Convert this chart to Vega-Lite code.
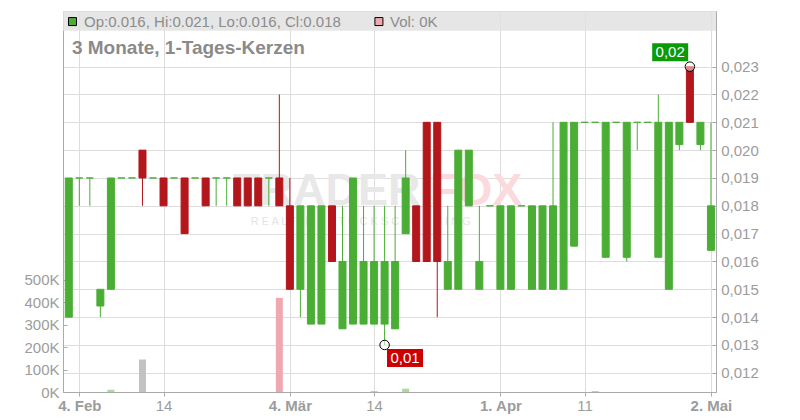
{
  "$schema": "https://vega.github.io/schema/vega-lite/v6.json",
  "width": 653,
  "height": 381,
  "autosize": {"type": "none"},
  "padding": {"left": 63, "top": 11, "right": 84, "bottom": 28},
  "background": "white",
  "config": {
    "view": {"stroke": "#cccccc"},
    "font": "Liberation Sans",
    "axis": {
      "labelFont": "Liberation Sans",
      "labelFontSize": 15,
      "labelColor": "#9c9c9c",
      "domainColor": "#aaaaaa",
      "tickColor": "#aaaaaa",
      "gridColor": "#dddddd",
      "labelFlush": false,
      "labelOverlap": false
    }
  },
  "data": {
    "values": [
      {"i": 0, "d": "2025-02-03", "o": 0.014, "h": 0.019, "l": 0.014, "c": 0.019, "v": 0},
      {"i": 1, "d": "2025-02-04", "o": 0.019, "h": 0.019, "l": 0.018, "c": 0.019, "v": 0},
      {"i": 2, "d": "2025-02-05", "o": 0.019, "h": 0.019, "l": 0.018, "c": 0.019, "v": 0},
      {"i": 3, "d": "2025-02-06", "o": 0.0144, "h": 0.015, "l": 0.014, "c": 0.015, "v": 0},
      {"i": 4, "d": "2025-02-07", "o": 0.015, "h": 0.019, "l": 0.015, "c": 0.019, "v": 10000},
      {"i": 5, "d": "2025-02-10", "o": 0.019, "h": 0.019, "l": 0.019, "c": 0.019, "v": 0},
      {"i": 6, "d": "2025-02-11", "o": 0.019, "h": 0.019, "l": 0.019, "c": 0.019, "v": 0},
      {"i": 7, "d": "2025-02-12", "o": 0.020, "h": 0.020, "l": 0.018, "c": 0.019, "v": 145000},
      {"i": 8, "d": "2025-02-13", "o": 0.019, "h": 0.019, "l": 0.019, "c": 0.019, "v": 0},
      {"i": 9, "d": "2025-02-14", "o": 0.019, "h": 0.019, "l": 0.018, "c": 0.018, "v": 0},
      {"i": 10, "d": "2025-02-17", "o": 0.019, "h": 0.019, "l": 0.019, "c": 0.019, "v": 0},
      {"i": 11, "d": "2025-02-18", "o": 0.019, "h": 0.019, "l": 0.017, "c": 0.017, "v": 0},
      {"i": 12, "d": "2025-02-19", "o": 0.019, "h": 0.019, "l": 0.019, "c": 0.019, "v": 0},
      {"i": 13, "d": "2025-02-20", "o": 0.019, "h": 0.019, "l": 0.018, "c": 0.018, "v": 0},
      {"i": 14, "d": "2025-02-21", "o": 0.019, "h": 0.019, "l": 0.018, "c": 0.019, "v": 0},
      {"i": 15, "d": "2025-02-24", "o": 0.019, "h": 0.019, "l": 0.018, "c": 0.019, "v": 0},
      {"i": 16, "d": "2025-02-25", "o": 0.019, "h": 0.019, "l": 0.018, "c": 0.018, "v": 0},
      {"i": 17, "d": "2025-02-26", "o": 0.019, "h": 0.019, "l": 0.018, "c": 0.018, "v": 0},
      {"i": 18, "d": "2025-02-27", "o": 0.019, "h": 0.019, "l": 0.018, "c": 0.018, "v": 0},
      {"i": 19, "d": "2025-02-28", "o": 0.019, "h": 0.019, "l": 0.018, "c": 0.019, "v": 0},
      {"i": 20, "d": "2025-03-03", "o": 0.019, "h": 0.022, "l": 0.018, "c": 0.018, "v": 420000},
      {"i": 21, "d": "2025-03-04", "o": 0.018, "h": 0.019, "l": 0.015, "c": 0.015, "v": 0},
      {"i": 22, "d": "2025-03-05", "o": 0.015, "h": 0.018, "l": 0.014, "c": 0.018, "v": 0},
      {"i": 23, "d": "2025-03-06", "o": 0.01375, "h": 0.018, "l": 0.01375, "c": 0.018, "v": 0},
      {"i": 24, "d": "2025-03-07", "o": 0.01375, "h": 0.018, "l": 0.01375, "c": 0.018, "v": 0},
      {"i": 25, "d": "2025-03-10", "o": 0.018, "h": 0.018, "l": 0.016, "c": 0.016, "v": 0},
      {"i": 26, "d": "2025-03-11", "o": 0.01358, "h": 0.018, "l": 0.01358, "c": 0.016, "v": 0},
      {"i": 27, "d": "2025-03-12", "o": 0.01375, "h": 0.019, "l": 0.01375, "c": 0.019, "v": 0},
      {"i": 28, "d": "2025-03-13", "o": 0.01375, "h": 0.018, "l": 0.01375, "c": 0.016, "v": 0},
      {"i": 29, "d": "2025-03-14", "o": 0.01375, "h": 0.018, "l": 0.01375, "c": 0.016, "v": 4000},
      {"i": 30, "d": "2025-03-17", "o": 0.01375, "h": 0.018, "l": 0.013, "c": 0.016, "v": 0},
      {"i": 31, "d": "2025-03-18", "o": 0.01358, "h": 0.018, "l": 0.01358, "c": 0.016, "v": 0},
      {"i": 32, "d": "2025-03-19", "o": 0.017, "h": 0.020, "l": 0.017, "c": 0.019, "v": 15000},
      {"i": 33, "d": "2025-03-20", "o": 0.018, "h": 0.018, "l": 0.016, "c": 0.016, "v": 0},
      {"i": 34, "d": "2025-03-21", "o": 0.021, "h": 0.021, "l": 0.016, "c": 0.016, "v": 0},
      {"i": 35, "d": "2025-03-24", "o": 0.021, "h": 0.021, "l": 0.014, "c": 0.016, "v": 0},
      {"i": 36, "d": "2025-03-25", "o": 0.015, "h": 0.018, "l": 0.015, "c": 0.016, "v": 0},
      {"i": 37, "d": "2025-03-26", "o": 0.015, "h": 0.020, "l": 0.015, "c": 0.020, "v": 0},
      {"i": 38, "d": "2025-03-27", "o": 0.018, "h": 0.020, "l": 0.018, "c": 0.020, "v": 0},
      {"i": 39, "d": "2025-03-28", "o": 0.015, "h": 0.018, "l": 0.015, "c": 0.016, "v": 0},
      {"i": 40, "d": "2025-03-31", "o": 0.018, "h": 0.018, "l": 0.018, "c": 0.018, "v": 0},
      {"i": 41, "d": "2025-04-01", "o": 0.015, "h": 0.018, "l": 0.015, "c": 0.018, "v": 0},
      {"i": 42, "d": "2025-04-02", "o": 0.015, "h": 0.018, "l": 0.015, "c": 0.018, "v": 0},
      {"i": 43, "d": "2025-04-03", "o": 0.018, "h": 0.018, "l": 0.018, "c": 0.018, "v": 0},
      {"i": 44, "d": "2025-04-04", "o": 0.015, "h": 0.018, "l": 0.015, "c": 0.018, "v": 0},
      {"i": 45, "d": "2025-04-07", "o": 0.015, "h": 0.018, "l": 0.015, "c": 0.018, "v": 0},
      {"i": 46, "d": "2025-04-08", "o": 0.015, "h": 0.021, "l": 0.015, "c": 0.018, "v": 0},
      {"i": 47, "d": "2025-04-09", "o": 0.015, "h": 0.021, "l": 0.015, "c": 0.021, "v": 0},
      {"i": 48, "d": "2025-04-10", "o": 0.01655, "h": 0.021, "l": 0.01655, "c": 0.021, "v": 0},
      {"i": 49, "d": "2025-04-11", "o": 0.021, "h": 0.021, "l": 0.021, "c": 0.021, "v": 0},
      {"i": 50, "d": "2025-04-14", "o": 0.021, "h": 0.021, "l": 0.021, "c": 0.021, "v": 4000},
      {"i": 51, "d": "2025-04-15", "o": 0.01615, "h": 0.021, "l": 0.01615, "c": 0.021, "v": 0},
      {"i": 52, "d": "2025-04-16", "o": 0.021, "h": 0.021, "l": 0.021, "c": 0.021, "v": 0},
      {"i": 53, "d": "2025-04-17", "o": 0.01615, "h": 0.021, "l": 0.016, "c": 0.021, "v": 0},
      {"i": 54, "d": "2025-04-22", "o": 0.021, "h": 0.021, "l": 0.020, "c": 0.021, "v": 0},
      {"i": 55, "d": "2025-04-23", "o": 0.021, "h": 0.021, "l": 0.021, "c": 0.021, "v": 0},
      {"i": 56, "d": "2025-04-24", "o": 0.01615, "h": 0.022, "l": 0.01615, "c": 0.021, "v": 0},
      {"i": 57, "d": "2025-04-25", "o": 0.015, "h": 0.021, "l": 0.015, "c": 0.021, "v": 0},
      {"i": 58, "d": "2025-04-28", "o": 0.0202, "h": 0.021, "l": 0.020, "c": 0.021, "v": 0},
      {"i": 59, "d": "2025-04-29", "o": 0.023, "h": 0.023, "l": 0.021, "c": 0.021, "v": 0},
      {"i": 60, "d": "2025-04-30", "o": 0.0202, "h": 0.021, "l": 0.020, "c": 0.021, "v": 0},
      {"i": 61, "d": "2025-05-02", "o": 0.0164, "h": 0.021, "l": 0.0164, "c": 0.018, "v": 0}
    ]
  },
  "encoding": {
    "x": {
      "field": "i",
      "type": "quantitative",
      "scale": {"domain": [-0.55, 61.48], "nice": false, "zero": false, "padding": 0},
      "axis": {
        "title": null,
        "orient": "bottom",
        "values": [1, 9, 21, 29, 41, 49, 61],
        "labelExpr": "datum.value == 1 ? '4. Feb' : datum.value == 9 ? '14' : datum.value == 21 ? '4. Mär' : datum.value == 29 ? '14' : datum.value == 41 ? '1. Apr' : datum.value == 49 ? '11' : datum.value == 61 ? '2. Mai' : ''",
        "labelFontWeight": {"condition": {"test": "datum.value == 1 || datum.value == 21 || datum.value == 41 || datum.value == 61", "value": "bold"}, "value": "normal"},
        "grid": true,
        "tickSize": 4,
        "labelPadding": 2
      }
    }
  },
  "layer": [
    {
      "transform": [
        {"window": [{"op": "lag", "field": "c", "as": "pc"}], "sort": [{"field": "i", "order": "ascending"}]},
        {"filter": "datum.v > 0"}
      ],
      "mark": {"type": "bar", "width": 7},
      "encoding": {
        "y": {
          "field": "v",
          "type": "quantitative",
          "scale": {"domain": [0, 1700000], "nice": false},
          "axis": {
            "title": null,
            "orient": "left",
            "values": [0, 100000, 200000, 300000, 400000, 500000],
            "labelExpr": "(datum.value / 1000) + 'K'",
            "grid": false,
            "tickSize": -4,
            "labelPadding": 8
          }
        },
        "color": {
          "condition": [
            {"test": "datum.c > datum.pc", "value": "#a8dc9e"},
            {"test": "datum.c < datum.pc", "value": "#f0a8b0"}
          ],
          "value": "#c2c2c2"
        }
      }
    },
    {
      "encoding": {
        "y": {
          "field": "l",
          "type": "quantitative",
          "scale": {"domain": [0.01131, 0.025], "nice": false, "zero": false},
          "axis": {
            "title": null,
            "orient": "right",
            "values": [0.012, 0.013, 0.014, 0.015, 0.016, 0.017, 0.018, 0.019, 0.02, 0.021, 0.022, 0.023],
            "labelExpr": "replace(format(datum.value, '.3f'), '.', ',')",
            "grid": true,
            "tickSize": -4,
            "labelPadding": 8.7
          }
        }
      },
      "layer": [
        {
          "transform": [{"filter": "datum.i == 0"}],
          "mark": {"type": "rect", "color": "#e2e2e2", "opacity": 0.85},
          "encoding": {
            "x": {"datum": -0.55, "type": "quantitative"},
            "x2": {"datum": 61.48},
            "y": {"datum": 0.025, "type": "quantitative"},
            "y2": {"datum": 0.02429}
          }
        },
        {
          "transform": [{"filter": "datum.i == 0"}],
          "mark": {"type": "text", "text": "TRADER", "align": "left", "baseline": "middle", "fontSize": 45, "fontWeight": "bold", "color": "#e8e8e8"},
          "encoding": {
            "x": {"datum": 15.6, "type": "quantitative"},
            "y": {"datum": 0.01855, "type": "quantitative"}
          }
        },
        {
          "transform": [{"filter": "datum.i == 0"}],
          "mark": {"type": "text", "text": "FOX", "align": "left", "baseline": "middle", "fontSize": 45, "fontWeight": "bold", "color": "#fbdadd"},
          "encoding": {
            "x": {"datum": 34.3, "type": "quantitative"},
            "y": {"datum": 0.01855, "type": "quantitative"}
          }
        },
        {
          "transform": [{"filter": "datum.i == 0"}],
          "mark": {"type": "text", "text": "R E A L T I M E   S T O C K   S C R E E N I N G", "align": "left", "baseline": "middle", "fontSize": 11, "color": "#e4e4e4"},
          "encoding": {
            "x": {"datum": 17.28, "type": "quantitative"},
            "y": {"datum": 0.01742, "type": "quantitative"}
          }
        },
        {
          "mark": {"type": "rule", "strokeWidth": 1},
          "encoding": {
            "y2": {"field": "h"},
            "color": {"condition": {"test": "datum.o > datum.c", "value": "#b3161b"}, "value": "#4aae35"}
          }
        },
        {
          "mark": {"type": "bar", "width": 7, "strokeWidth": 1},
          "encoding": {
            "y": {"field": "o", "type": "quantitative"},
            "y2": {"field": "c"},
            "fill": {"condition": {"test": "datum.o > datum.c", "value": "#b3161b"}, "value": "#4aae35"},
            "stroke": {"condition": {"test": "datum.o > datum.c", "value": "#b3161b"}, "value": "#4aae35"}
          }
        },
        {
          "transform": [{"filter": "datum.i == 30"}],
          "mark": {"type": "point", "shape": "circle", "size": 90, "filled": true, "fill": "white", "fillOpacity": 0.5, "stroke": "black", "strokeWidth": 1}
        },
        {
          "transform": [{"filter": "datum.i == 59"}],
          "mark": {"type": "point", "shape": "circle", "size": 90, "filled": true, "fill": "white", "fillOpacity": 0.5, "stroke": "black", "strokeWidth": 1},
          "encoding": {
            "y": {"field": "h", "type": "quantitative"}
          }
        },
        {
          "transform": [{"filter": "datum.i == 30"}],
          "mark": {"type": "point", "shape": "M-1,-0.5H1V0.5H-1Z", "size": 1296, "filled": true, "fill": "#cc0000", "strokeWidth": 0, "opacity": 1, "xOffset": 20.4, "yOffset": 13}
        },
        {
          "transform": [{"filter": "datum.i == 30"}],
          "mark": {"type": "text", "text": "0,01", "align": "center", "baseline": "middle", "fontSize": 15, "color": "white", "dx": 20.4, "dy": 13}
        },
        {
          "transform": [{"filter": "datum.i == 59"}],
          "mark": {"type": "point", "shape": "M-1,-0.5H1V0.5H-1Z", "size": 1296, "filled": true, "fill": "#0a9a0a", "strokeWidth": 0, "opacity": 1, "xOffset": -19.7, "yOffset": -14.3},
          "encoding": {
            "y": {"field": "h", "type": "quantitative"}
          }
        },
        {
          "transform": [{"filter": "datum.i == 59"}],
          "mark": {"type": "text", "text": "0,02", "align": "center", "baseline": "middle", "fontSize": 15, "color": "white", "dx": -19.7, "dy": -14.3},
          "encoding": {
            "y": {"field": "h", "type": "quantitative"}
          }
        },
        {
          "transform": [{"filter": "datum.i == 0"}],
          "mark": {"type": "point", "shape": "square", "size": 64, "filled": true, "fill": "#4aae35", "stroke": "black", "strokeWidth": 1, "opacity": 1},
          "encoding": {
            "x": {"datum": 0.352, "type": "quantitative"},
            "y": {"datum": 0.02462, "type": "quantitative"}
          }
        },
        {
          "transform": [{"filter": "datum.i == 0"}],
          "mark": {"type": "text", "text": "Op:0.016, Hi:0.021, Lo:0.016, Cl:0.018", "align": "left", "baseline": "middle", "fontSize": 15, "color": "#8c8c8c"},
          "encoding": {
            "x": {"datum": 1.445, "type": "quantitative"},
            "y": {"datum": 0.02462, "type": "quantitative"}
          }
        },
        {
          "transform": [{"filter": "datum.i == 0"}],
          "mark": {"type": "point", "shape": "square", "size": 64, "filled": true, "fill": "#f0a8b0", "stroke": "black", "strokeWidth": 1, "opacity": 1},
          "encoding": {
            "x": {"datum": 29.46, "type": "quantitative"},
            "y": {"datum": 0.02462, "type": "quantitative"}
          }
        },
        {
          "transform": [{"filter": "datum.i == 0"}],
          "mark": {"type": "text", "text": "Vol: 0K", "align": "left", "baseline": "middle", "fontSize": 15, "color": "#8c8c8c"},
          "encoding": {
            "x": {"datum": 30.51, "type": "quantitative"},
            "y": {"datum": 0.02462, "type": "quantitative"}
          }
        },
        {
          "transform": [{"filter": "datum.i == 0"}],
          "mark": {"type": "text", "text": "3 Monate, 1-Tages-Kerzen", "align": "left", "baseline": "middle", "fontSize": 19, "fontWeight": "bold", "color": "#8a8a8a"},
          "encoding": {
            "x": {"datum": 0.3, "type": "quantitative"},
            "y": {"datum": 0.023656, "type": "quantitative"}
          }
        }
      ]
    }
  ],
  "resolve": {"scale": {"y": "independent"}}
}
